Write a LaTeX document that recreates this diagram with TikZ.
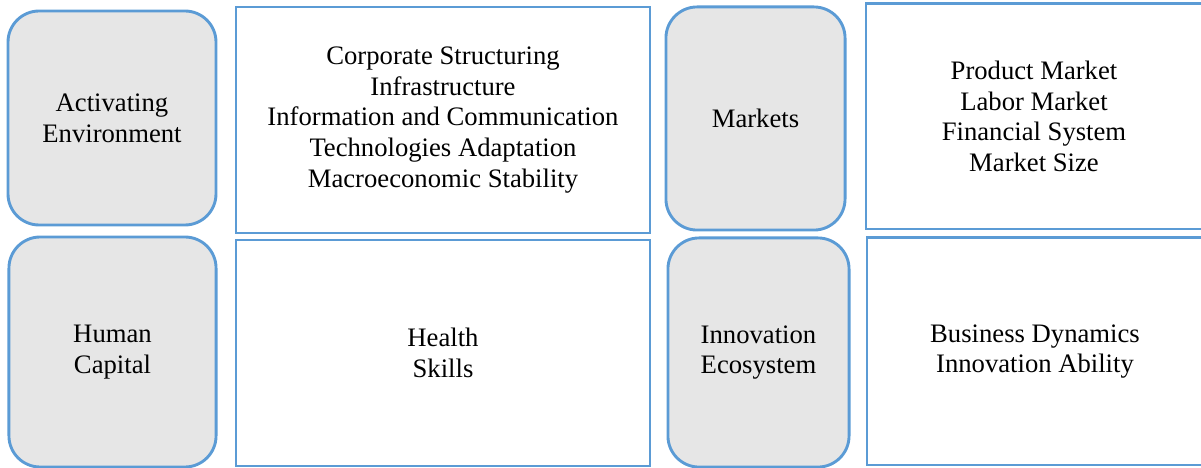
\documentclass[tikz,border=0pt]{standalone}
\usepackage{fontspec}
\setmainfont{Liberation Serif}

\definecolor{bordo}{HTML}{5B9BD5}
\definecolor{grigio}{HTML}{E6E6E6}

\tikzset{
    pilastro/.style={draw=bordo, fill=grigio, line width=1.3pt,
        rounded corners=14pt, inner sep=0pt, align=center,
        font=\fontsize{12}{13.8}\selectfont},
    voci/.style={draw=bordo, fill=white, line width=1.3pt,
        inner sep=0pt, align=center,
        font=\fontsize{12}{13.8}\selectfont}
}

\begin{document}
\begin{tikzpicture}[x=0.45pt, y=-0.45pt]

    % Area visibile
    \clip (0,0) rectangle (1201,468);

    % Prima riga
    \node[pilastro, minimum width=93.6pt, minimum height=96.3pt]
        (amb) at (112,118) {Activating\\Environment};
    \node[voci, minimum width=186.3pt, minimum height=101.7pt]
        (strut) at (443,120) {Corporate Structuring\\Infrastructure\\Information and Communication\\Technologies Adaptation\\Macroeconomic Stability};
    \node[pilastro, minimum width=80.6pt, minimum height=100.4pt]
        (merc) at (755.5,118.5) {Markets};
    \node[voci, minimum width=151.2pt, minimum height=101.3pt]
        (prod) at (1034,116.5) {Product Market\\Labor Market\\Financial System\\Market Size};

    % Seconda riga
    \node[pilastro, minimum width=93.2pt, minimum height=103.5pt]
        (umano) at (112.5,352) {Human\\Capital};
    \node[voci, minimum width=186.3pt, minimum height=101.7pt]
        (salute) at (443,353) {Health\\Skills};
    \node[pilastro, minimum width=81.5pt, minimum height=103.1pt]
        (innov) at (758.5,352.5) {Innovation\\Ecosystem};
    \node[voci, minimum width=151.2pt, minimum height=102.2pt]
        (dinam) at (1035,351.5) {Business Dynamics\\Innovation Ability};

\end{tikzpicture}
\end{document}
